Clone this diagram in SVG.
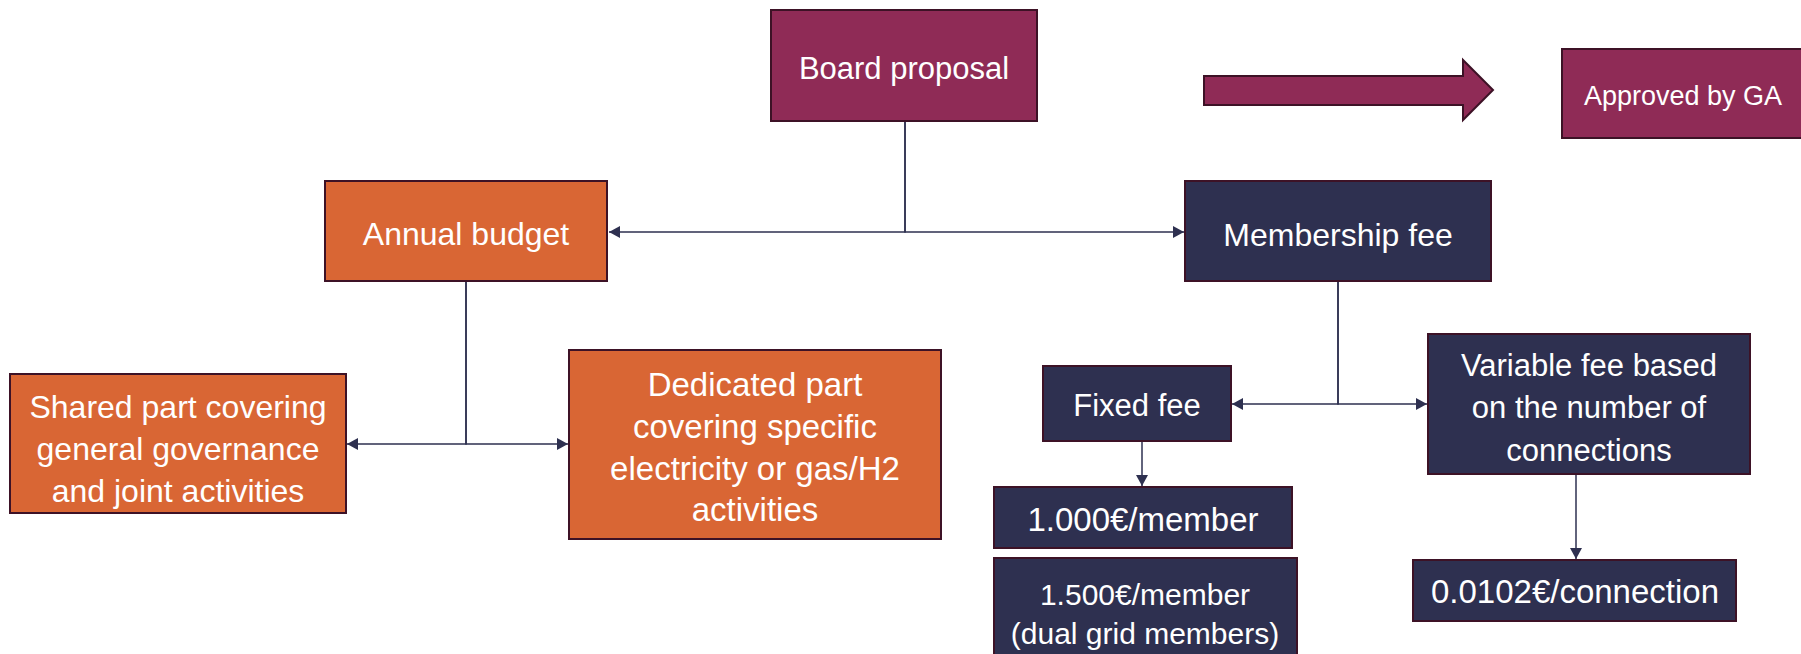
<svg xmlns="http://www.w3.org/2000/svg" width="1801" height="654" viewBox="0 0 1801 654">
<style>
  .maroon { fill: #8f2b56; stroke: #3d1226; stroke-width: 2; }
  .orange { fill: #d96634; stroke: #3d1226; stroke-width: 2; }
  .navy { fill: #2e3050; stroke: #3d1226; stroke-width: 2; }
  text { font-family: "Liberation Sans", Arial, sans-serif; fill: #ffffff; text-anchor: middle; dominant-baseline: central; }
  .conn { fill: none; stroke: #2e3050; stroke-width: 1.5; }
</style>
<defs>
  <marker id="ah" markerUnits="userSpaceOnUse" markerWidth="11" markerHeight="12" refX="11" refY="6" orient="auto">
    <path d="M0,0 L11,6 L0,12 z" fill="#2e3050"/>
  </marker>
</defs>
<rect width="1801" height="654" fill="#ffffff"/>

<g id="connectors">
  <path class="conn" d="M905,121 V232 H609" marker-end="url(#ah)"/>
  <path class="conn" d="M905,121 V232 H1184" marker-end="url(#ah)"/>
  <path class="conn" d="M466,281 V444 H347" marker-end="url(#ah)"/>
  <path class="conn" d="M466,281 V444 H568" marker-end="url(#ah)"/>
  <path class="conn" d="M1338,281 V404 H1232" marker-end="url(#ah)"/>
  <path class="conn" d="M1338,281 V404 H1427" marker-end="url(#ah)"/>
  <path class="conn" d="M1142,441 V486" marker-end="url(#ah)"/>
  <path class="conn" d="M1576,474 V559" marker-end="url(#ah)"/>
</g>

<g id="arrow">
  <polygon class="maroon" points="1204,76 1463,76 1463,60 1493,90 1463,120 1463,105 1204,105"/>
</g>

<g id="board-proposal">
  <rect class="maroon" x="771" y="10" width="266" height="111"/>
  <text x="904" y="68" font-size="31">Board proposal</text>
</g>

<g id="approved-by-ga">
  <rect class="maroon" x="1562" y="49" width="245" height="89"/>
  <text x="1683" y="96" font-size="27">Approved by GA</text>
</g>

<g id="annual-budget">
  <rect class="orange" x="325" y="181" width="282" height="100"/>
  <text x="466" y="234" font-size="32">Annual budget</text>
</g>

<g id="membership-fee">
  <rect class="navy" x="1185" y="181" width="306" height="100"/>
  <text x="1338" y="235" font-size="32">Membership fee</text>
</g>

<g id="shared-part">
  <rect class="orange" x="10" y="374" width="336" height="139"/>
  <text x="178" y="407" font-size="32">Shared part covering</text>
  <text x="178" y="449" font-size="32">general governance</text>
  <text x="178" y="491" font-size="32">and joint activities</text>
</g>

<g id="dedicated-part">
  <rect class="orange" x="569" y="350" width="372" height="189"/>
  <text x="755" y="384" font-size="33">Dedicated part</text>
  <text x="755" y="426" font-size="33">covering specific</text>
  <text x="755" y="468" font-size="33">electricity or gas/H2</text>
  <text x="755" y="509" font-size="33">activities</text>
</g>

<g id="fixed-fee">
  <rect class="navy" x="1043" y="366" width="188" height="75"/>
  <text x="1137" y="405" font-size="31">Fixed fee</text>
</g>

<g id="variable-fee">
  <rect class="navy" x="1428" y="334" width="322" height="140"/>
  <text x="1589" y="365" font-size="31">Variable fee based</text>
  <text x="1589" y="407" font-size="31">on the number of</text>
  <text x="1589" y="450" font-size="31">connections</text>
</g>

<g id="fee-1000">
  <rect class="navy" x="994" y="487" width="298" height="61"/>
  <text x="1143" y="519" font-size="33">1.000€/member</text>
</g>

<g id="fee-1500">
  <rect class="navy" x="994" y="558" width="303" height="100"/>
  <text x="1145" y="594" font-size="30">1.500€/member</text>
  <text x="1145" y="633" font-size="30">(dual grid members)</text>
</g>

<g id="fee-connection">
  <rect class="navy" x="1413" y="560" width="323" height="61"/>
  <text x="1575" y="591" font-size="33">0.0102€/connection</text>
</g>
</svg>
